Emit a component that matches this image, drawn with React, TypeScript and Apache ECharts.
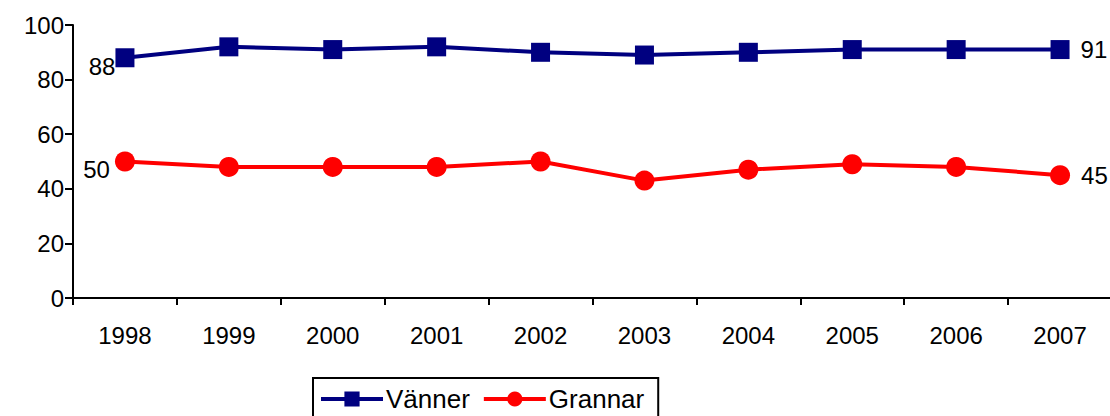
import React, { useEffect, useRef } from "react";
import * as echarts from "echarts";

const years = ["1998", "1999", "2000", "2001", "2002", "2003", "2004", "2005", "2006", "2007"];
const vanner = [88, 92, 91, 92, 90, 89, 90, 91, 91, 91];
const grannar = [50, 48, 48, 48, 50, 43, 47, 49, 48, 45];
const yTicks = [0, 20, 40, 60, 80, 100];

const FONT = "Liberation Sans, Arial, sans-serif";

function withEndLabels(values: number[], firstDistance: number, firstOffsetY: number) {
  const last = values.length - 1;
  return values.map((v, i) => {
    if (i === 0) {
      return {
        value: v,
        label: { show: true, position: "left", distance: firstDistance, offset: [0, firstOffsetY] },
      };
    }
    if (i === last) {
      return { value: v, label: { show: true, position: "right", distance: 11 } };
    }
    return v;
  });
}

export default function App() {
  const ref = useRef<HTMLDivElement>(null);
  useEffect(() => {
    if (!ref.current) return;
    const chart = echarts.init(ref.current, null, { renderer: "svg" });
    const labelStyle = { color: "#000", fontFamily: FONT, fontSize: 24 };
    chart.setOption({
      animation: false,
      backgroundColor: "#fff",
      textStyle: { fontFamily: FONT },
      grid: { left: 73, right: 0, top: 25, bottom: 118, containLabel: false },
      legend: {
        left: 313,
        top: 378,
        itemWidth: 62,
        itemHeight: 19,
        itemGap: 12,
        padding: [8, 14, 12, 6],
        borderColor: "#000",
        borderWidth: 2,
        borderRadius: 0,
        lineStyle: { width: 4 },
        textStyle: { ...labelStyle, fontSize: 26, padding: [0, 0, 0, -2] },
        data: ["Vänner", "Grannar"],
      },
      xAxis: {
        type: "category",
        data: years,
        boundaryGap: true,
        axisLine: { lineStyle: { color: "#000", width: 2 } },
        axisTick: { show: true, length: 7, lineStyle: { color: "#000", width: 2 } },
        axisLabel: { ...labelStyle, margin: 25 },
        splitLine: { show: false },
      },
      yAxis: {
        type: "value",
        min: yTicks[0],
        max: yTicks[yTicks.length - 1],
        interval: 20,
        axisLine: { show: true, lineStyle: { color: "#000", width: 2 } },
        axisTick: { show: true, length: 8, lineStyle: { color: "#000", width: 2 } },
        axisLabel: { ...labelStyle, margin: 9 },
        splitLine: { show: false },
      },
      series: [
        {
          name: "Vänner",
          type: "line",
          data: withEndLabels(vanner, 0, 9),
          symbol: "rect",
          symbolSize: 19,
          lineStyle: { color: "#000080", width: 4 },
          itemStyle: { color: "#000080" },
          label: { show: false, ...labelStyle },
        },
        {
          name: "Grannar",
          type: "line",
          data: withEndLabels(grannar, 5, 8),
          symbol: "circle",
          symbolSize: 20,
          lineStyle: { color: "#FF0000", width: 4 },
          itemStyle: { color: "#FF0000" },
          label: { show: false, ...labelStyle },
        },
      ],
    });
    return () => chart.dispose();
  }, []);
  return (
    <div
      ref={ref}
      style={{ position: "fixed", left: 0, top: 0, width: 1112, height: 416 }}
    />
  );
}
